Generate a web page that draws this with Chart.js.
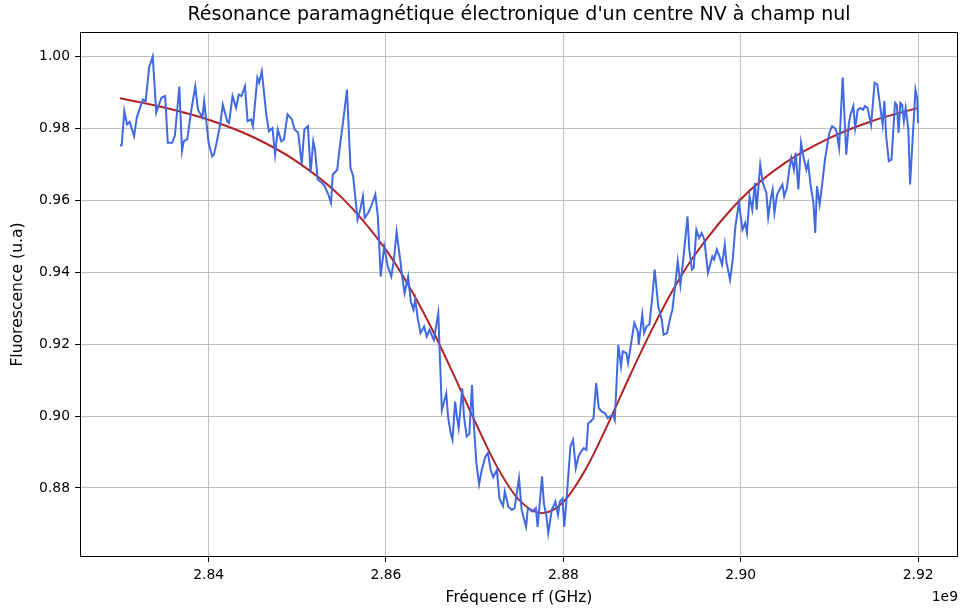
<!DOCTYPE html>
<html><head><meta charset="utf-8">
<script src="https://cdn.jsdelivr.net/npm/chart.js@4.4.1/dist/chart.umd.min.js"></script>
<style>html,body{margin:0;padding:0;background:#fff}</style>
</head><body>
<canvas id="c" width="960" height="610" style="width:960px;height:610px;display:block"></canvas>
<script>
// measured signal (frequency in MHz, fluorescence in u.a)
const freqMHz = [
2830.0,2830.2,2830.5,2830.8,2831.1,2831.6,2831.9,2832.3,2832.6,2832.9,2833.3,2833.7,2834.1,2834.4,2834.7,2835.1,2835.4,2835.9,2836.2,2836.7,
2837.0,2837.2,2837.6,2838.0,2838.5,2838.8,2839.3,2839.5,2839.8,2840.0,2840.4,2840.6,2840.9,2841.3,2841.6,2842.1,2842.3,2842.7,2843.1,2843.4,
2843.7,2844.1,2844.4,2844.8,2845.0,2845.5,2845.7,2846.0,2846.5,2846.8,2847.2,2847.5,2847.8,2848.2,2848.5,2848.9,2849.4,2849.7,2850.1,2850.5,
2850.8,2851.2,2851.5,2851.8,2852.0,2852.3,2852.8,2853.1,2853.5,2853.8,2854.0,2854.5,2854.8,2855.2,2855.6,2856.0,2856.3,2856.8,2857.1,2857.4,
2857.6,2858.0,2858.4,2858.8,2859.1,2859.4,2859.8,2860.2,2860.6,2860.9,2861.2,2861.6,2861.8,2862.1,2862.5,2862.8,2863.1,2863.3,2863.6,2863.9,
2864.3,2864.6,2864.9,2865.4,2865.9,2866.3,2866.5,2866.8,2867.0,2867.3,2867.5,2867.8,2868.0,2868.2,2868.6,2868.8,2869.1,2869.4,2869.7,2869.9,
2870.2,2870.5,2870.8,2871.2,2871.5,2871.8,2872.1,2872.5,2872.8,2873.2,2873.4,2873.8,2874.2,2874.5,2875.0,2875.3,2875.5,2875.8,2876.0,2876.5,
2876.9,2877.1,2877.6,2877.8,2878.1,2878.3,2878.7,2879.1,2879.4,2879.6,2879.9,2880.1,2880.4,2880.8,2881.1,2881.4,2881.7,2882.0,2882.3,2882.6,
2882.8,2883.1,2883.4,2883.7,2884.0,2884.3,2884.7,2885.0,2885.3,2885.6,2885.8,2886.2,2886.5,2886.7,2887.1,2887.3,2887.7,2888.0,2888.4,2888.5,
2888.9,2889.1,2889.4,2889.7,2890.0,2890.3,2890.7,2891.1,2891.3,2891.7,2892.0,2892.3,2892.6,2892.9,2893.2,2893.5,2894.0,2894.2,2894.5,2894.7,
2895.0,2895.3,2895.6,2895.9,2896.3,2896.8,2897.0,2897.3,2897.6,2897.9,2898.2,2898.4,2898.8,2899.1,2899.4,2899.8,2900.2,2900.5,2900.7,2901.0,
2901.3,2901.6,2901.8,2902.2,2902.5,2902.9,2903.1,2903.4,2903.6,2903.8,2904.1,2904.4,2904.7,2904.9,2905.2,2905.5,2905.7,2906.0,2906.2,2906.5,
2906.8,2907.1,2907.4,2907.6,2907.9,2908.2,2908.4,2908.6,2908.9,2909.2,2909.5,2909.8,2910.0,2910.3,2910.6,2910.8,2911.1,2911.5,2911.9,2912.2,
2912.4,2912.7,2912.9,2913.2,2913.5,2913.8,2914.0,2914.3,2914.7,2915.1,2915.4,2915.7,2916.0,2916.2,2916.4,2916.7,2917.0,2917.4,2917.6,2917.8,
2918.0,2918.2,2918.4,2918.6,2918.9,2919.1,2919.7,2919.9,2920.0
];
const fluo = [
0.9753,0.9753,0.9848,0.9811,0.9818,0.9778,0.9830,0.9860,0.9880,0.9875,0.9970,1.0000,0.9844,0.9866,0.9886,0.9890,0.9760,0.9760,0.9780,0.9916,
0.9737,0.9764,0.9770,0.9843,0.9917,0.9852,0.9830,0.9876,0.9806,0.9760,0.9722,0.9727,0.9760,0.9810,0.9866,0.9820,0.9815,0.9890,0.9857,0.9894,
0.9890,0.9917,0.9820,0.9825,0.9806,0.9941,0.9927,0.9959,0.9839,0.9792,0.9801,0.9727,0.9797,0.9764,0.9769,0.9839,0.9825,0.9797,0.9788,0.9700,
0.9797,0.9806,0.9676,0.9764,0.9741,0.9658,0.9648,0.9639,0.9616,0.9593,0.9671,0.9685,0.9750,0.9825,0.9908,0.9690,0.9667,0.9546,0.9574,0.9611,
0.9551,0.9565,0.9588,0.9616,0.9551,0.9388,0.9472,0.9416,0.9388,0.9435,0.9513,0.9435,0.9393,0.9342,0.9388,0.9318,0.9296,0.9324,0.9268,0.9231,
0.9249,0.9221,0.9240,0.9212,0.9286,0.9016,0.9035,0.9063,0.8998,0.8952,0.8934,0.9040,0.8998,0.8966,0.9077,0.8998,0.8943,0.8950,0.9086,0.8980,
0.8869,0.8810,0.8850,0.8887,0.8897,0.8850,0.8830,0.8850,0.8770,0.8750,0.8790,0.8748,0.8739,0.8744,0.8827,0.8739,0.8720,0.8692,0.8744,0.8734,
0.8744,0.8692,0.8832,0.8758,0.8720,0.8674,0.8739,0.8762,0.8725,0.8762,0.8770,0.8692,0.8780,0.8916,0.8934,0.8855,0.8887,0.8901,0.8911,0.8906,
0.8980,0.8985,0.8994,0.9092,0.9022,0.9013,0.9008,0.8994,0.9000,0.9003,0.8989,0.9198,0.9138,0.9180,0.9175,0.9147,0.9212,0.9259,0.9235,0.9198,
0.9282,0.9231,0.9250,0.9254,0.9324,0.9407,0.9305,0.9268,0.9226,0.9231,0.9268,0.9296,0.9361,0.9430,0.9365,0.9430,0.9555,0.9463,0.9407,0.9412,
0.9518,0.9495,0.9509,0.9490,0.9398,0.9444,0.9435,0.9463,0.9444,0.9421,0.9477,0.9426,0.9379,0.9435,0.9528,0.9593,0.9518,0.9537,0.9509,0.9611,
0.9574,0.9648,0.9574,0.9699,0.9648,0.9620,0.9553,0.9606,0.9630,0.9565,0.9616,0.9630,0.9644,0.9611,0.9634,0.9690,0.9718,0.9685,0.9732,0.9630,
0.9760,0.9718,0.9685,0.9704,0.9639,0.9593,0.9509,0.9639,0.9588,0.9648,0.9713,0.9760,0.9788,0.9806,0.9801,0.9792,0.9746,0.9941,0.9727,0.9815,
0.9839,0.9862,0.9801,0.9852,0.9857,0.9852,0.9862,0.9857,0.9810,0.9927,0.9922,0.9866,0.9810,0.9876,0.9778,0.9709,0.9713,0.9871,0.9866,0.9788,
0.9871,0.9866,0.9820,0.9857,0.9797,0.9644,0.9908,0.9885,0.9815
];
// fitted curve
const fitFreqMHz = [2830,2835,2840,2845,2850,2855,2860,2862.5,2865,2867.5,2870,2872.5,2875,2877.6,2880,2882.5,2885,2887.5,2890,2892.5,2895,2900,2905,2910,2915,2920];
const fitFluo = [0.9884,0.9858,0.9824,0.9776,0.9707,0.9608,0.9462,0.9365,0.9251,0.9122,0.8987,0.8860,0.8767,0.8730,0.8761,0.8851,0.8976,0.9112,0.9241,0.9357,0.9454,0.9603,0.9704,0.9773,0.9822,0.9857];
const xTicksGHz = [2.84,2.86,2.88,2.90,2.92];
const yTicks = [0.88,0.90,0.92,0.94,0.96,0.98,1.00];

const FONT = "'DejaVu Sans', sans-serif";
const blueData = freqMHz.map((f,i)=>({x:f*1e6, y:fluo[i]}));
const redData = fitFreqMHz.map((f,i)=>({x:f*1e6, y:fitFluo[i]}));

const textPlugin = {
  id:'texts',
  afterDraw(chart){
    const ctx = chart.ctx, a = chart.chartArea;
    ctx.save();
    ctx.strokeStyle = '#000'; ctx.lineWidth = 1;
    ctx.strokeRect(Math.round(a.left)+0.5, Math.round(a.top)+0.5, Math.round(a.right-a.left)-1, Math.round(a.bottom-a.top)-1);
    ctx.fillStyle = '#000';
    ctx.textAlign = 'center'; ctx.textBaseline = 'middle';
    ctx.font = "19px " + FONT;
    ctx.fillText("Résonance paramagnétique électronique d'un centre NV à champ nul", (a.left+a.right)/2, 15);
    ctx.font = "15.6px " + FONT;
    ctx.fillText("Fréquence rf (GHz)", (a.left+a.right)/2, 598);
    ctx.save();
    ctx.translate(18, (a.top+a.bottom)/2);
    ctx.rotate(-Math.PI/2);
    ctx.fillText("Fluorescence (u.a)", 0, 0);
    ctx.restore();
    ctx.font = "13.9px " + FONT;
    ctx.textAlign = 'right';
    ctx.fillText("1e9", a.right, 597);
    ctx.restore();
  }
};

new Chart(document.getElementById('c'), {
  type:'line',
  data:{datasets:[
    {data:blueData, borderColor:'#4169E1', borderWidth:2, pointRadius:0, tension:0, fill:false},
    {data:redData, borderColor:'#B22222', borderWidth:2, pointRadius:0, cubicInterpolationMode:'monotone', fill:false}
  ]},
  options:{
    responsive:false, animation:false, devicePixelRatio:1,
    layout:{padding:{top:32,right:2,left:0,bottom:0}},
    plugins:{legend:{display:false}, title:{display:false}, tooltip:{enabled:false}},
    scales:{
      x:{type:'linear', min:2.8255e9, max:2.9245e9,
        afterBuildTicks:s=>{s.ticks = xTicksGHz.map(v=>({value:v*1e9}));},
        afterFit:s=>{s.height=53;},
        ticks:{callback:v=>(v/1e9).toFixed(2), font:{family:FONT,size:13.9}, color:'#000', padding:5, maxRotation:0, autoSkip:false},
        grid:{color:'#b0b0b0', lineWidth:0.8, tickLength:5, tickColor:'#000', tickWidth:1},
        border:{display:false}
      },
      y:{type:'linear', min:0.8608, max:1.0068,
        afterBuildTicks:s=>{s.ticks = yTicks.map(v=>({value:v}));},
        afterFit:s=>{s.width=80;},
        ticks:{callback:v=>v.toFixed(2), font:{family:FONT,size:13.9}, color:'#000', padding:5, autoSkip:false},
        grid:{color:'#b0b0b0', lineWidth:0.8, tickLength:5, tickColor:'#000', tickWidth:1},
        border:{display:false}
      }
    }
  },
  plugins:[textPlugin]
});
</script>
</body></html>
